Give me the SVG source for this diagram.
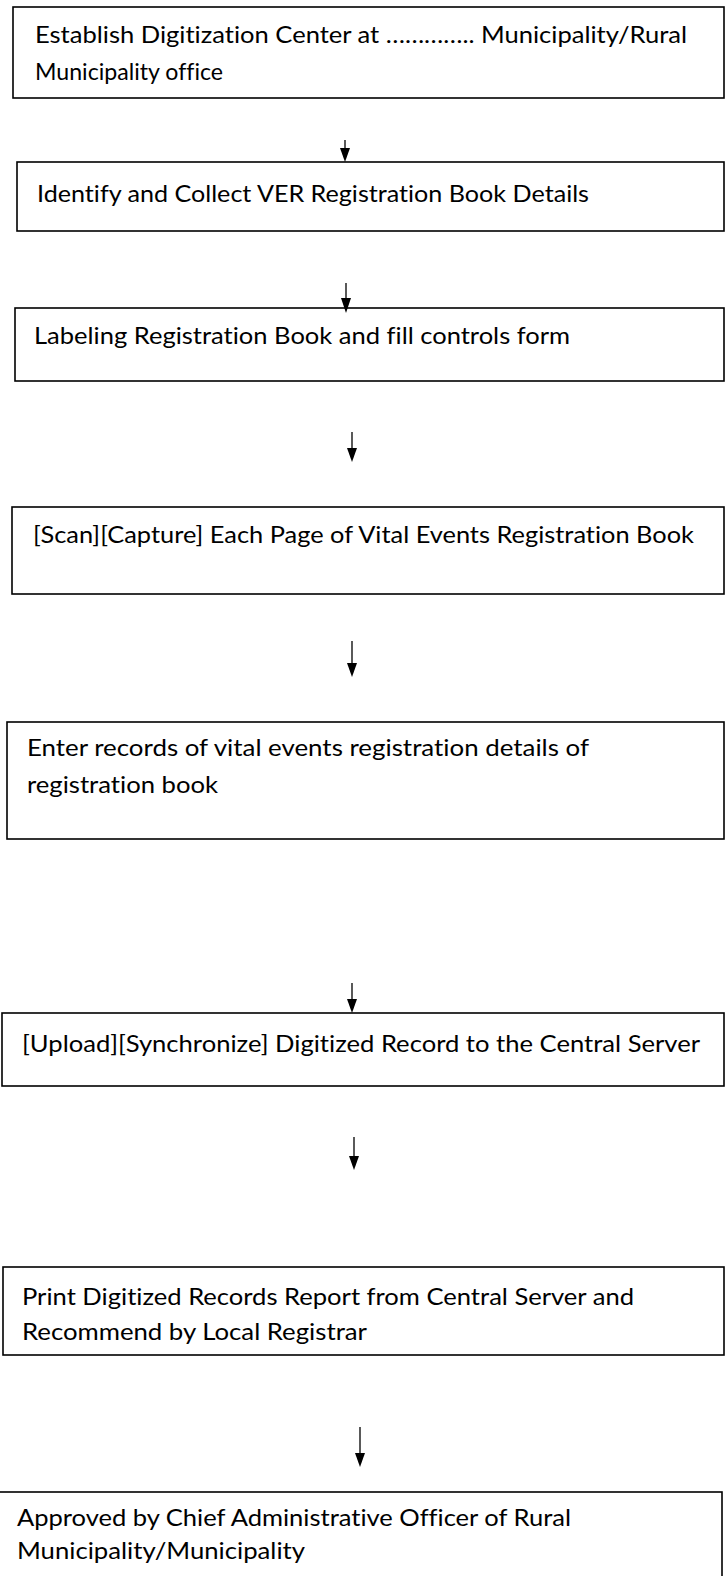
<svg xmlns="http://www.w3.org/2000/svg" width="725" height="1576" viewBox="0 0 725 1576">
<style>
.box{fill:#fff;stroke:#000;stroke-width:1.6}
.t{font-family:Lato,"Open Sans","Liberation Sans",sans-serif;font-size:24px;fill:#000;font-variant-ligatures:none;font-feature-settings:"liga" 0,"clig" 0}
.c{stroke:#000;stroke-width:1.3;fill:none}
.h{fill:#000;stroke:none}
</style>
<rect width="725" height="1576" fill="#fff"/>
<g id="n1"><rect class="box" x="13" y="7" width="711" height="91"/>
<text class="t" x="35" y="43" textLength="652" lengthAdjust="spacingAndGlyphs">Establish Digitization Center at ………….. Municipality/Rural</text>
<text class="t" x="35" y="80" textLength="188" lengthAdjust="spacingAndGlyphs">Municipality office</text></g>
<g id="n2"><rect class="box" x="17" y="162" width="707" height="69"/>
<text class="t" x="37" y="202" textLength="552" lengthAdjust="spacingAndGlyphs">Identify and Collect VER Registration Book Details</text></g>
<g id="n3"><rect class="box" x="15" y="308" width="709" height="73"/>
<text class="t" x="34" y="344" textLength="536" lengthAdjust="spacingAndGlyphs">Labeling Registration Book and fill controls form</text></g>
<g id="n4"><rect class="box" x="12" y="507" width="712" height="87"/>
<text class="t" x="33" y="543" textLength="661" lengthAdjust="spacingAndGlyphs">[Scan][Capture] Each Page of Vital Events Registration Book</text></g>
<g id="n5"><rect class="box" x="7" y="722" width="717" height="117"/>
<text class="t" x="27" y="756" textLength="562" lengthAdjust="spacingAndGlyphs">Enter records of vital events registration details of</text>
<text class="t" x="27" y="793" textLength="191" lengthAdjust="spacingAndGlyphs">registration book</text></g>
<g id="n6"><rect class="box" x="2" y="1013" width="722" height="73"/>
<text class="t" x="22" y="1052" textLength="678" lengthAdjust="spacingAndGlyphs">[Upload][Synchronize] Digitized Record to the Central Server</text></g>
<g id="n7"><rect class="box" x="3" y="1267" width="721" height="88"/>
<text class="t" x="22" y="1305" textLength="612" lengthAdjust="spacingAndGlyphs">Print Digitized Records Report from Central Server and</text>
<text class="t" x="22" y="1340" textLength="345" lengthAdjust="spacingAndGlyphs">Recommend by Local Registrar</text></g>
<g id="n8"><rect class="box" x="-5" y="1492" width="727" height="100"/>
<text class="t" x="17" y="1526" textLength="554" lengthAdjust="spacingAndGlyphs">Approved by Chief Administrative Officer of Rural</text>
<text class="t" x="17" y="1559" textLength="288" lengthAdjust="spacingAndGlyphs">Municipality/Municipality</text></g>
<g id="connectors">
<line class="c" x1="345" y1="140" x2="345" y2="150"/><path class="h" d="M340,148 L350,148 L345,162 Z"/>
<line class="c" x1="346" y1="283" x2="346" y2="300"/><path class="h" d="M341,298 L351,298 L346,313 Z"/>
<line class="c" x1="352" y1="432" x2="352" y2="450"/><path class="h" d="M347,448 L357,448 L352,462 Z"/>
<line class="c" x1="352" y1="641" x2="352" y2="665"/><path class="h" d="M347,663 L357,663 L352,677 Z"/>
<line class="c" x1="352" y1="983" x2="352" y2="1001"/><path class="h" d="M347,999 L357,999 L352,1013 Z"/>
<line class="c" x1="354" y1="1137" x2="354" y2="1158"/><path class="h" d="M349,1156 L359,1156 L354,1170 Z"/>
<line class="c" x1="360" y1="1427" x2="360" y2="1455"/><path class="h" d="M355,1453 L365,1453 L360,1467 Z"/>
</g>
</svg>
